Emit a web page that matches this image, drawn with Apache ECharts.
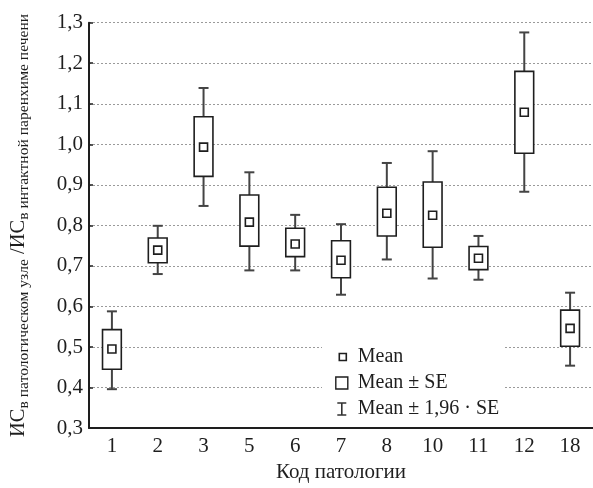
<!DOCTYPE html>
<html>
<head>
<meta charset="utf-8">
<script src="https://cdn.jsdelivr.net/npm/echarts@6/dist/echarts.min.js"></script>
<style>
  html, body { margin: 0; padding: 0; background: #fff; }
  #chart { width: 593px; height: 488px; }
</style>
</head>
<body>
<div id="chart"></div>
<script>
// ---- data ----
const categories = ['1', '2', '3', '5', '6', '7', '8', '10', '11', '12', '18'];
const meanValues = [0.495, 0.739, 0.993, 0.808, 0.754, 0.714, 0.830, 0.825, 0.719, 1.079, 0.546];
const seLow      = [0.445, 0.708, 0.921, 0.749, 0.723, 0.671, 0.774, 0.746, 0.691, 0.978, 0.502];
const seHigh     = [0.543, 0.769, 1.068, 0.875, 0.793, 0.762, 0.894, 0.907, 0.748, 1.180, 0.591];
const ciLow      = [0.396, 0.680, 0.848, 0.689, 0.689, 0.629, 0.716, 0.669, 0.666, 0.883, 0.454];
const ciHigh     = [0.588, 0.799, 1.139, 0.931, 0.826, 0.803, 0.954, 0.983, 0.774, 1.276, 0.634];
const yTicks = { min: 0.3, max: 1.3, step: 0.1 };
const legendNames = ['Mean', 'Mean ± SE', 'Mean ± 1,96 · SE'];
const xTitle = 'Код патологии';
const yTitleParts = ['ИС', 'в патологическом узле', ' /ИС', 'в интактной паренхиме печени'];

// ---- chart ----
const FONT = '"Liberation Serif", "DejaVu Serif", serif';
const INK = '#1e1e1e';
const chart = echarts.init(document.getElementById('chart'), null, { renderer: 'canvas' });

const whiskerData = categories.map((c, i) => [i, ciLow[i], ciHigh[i]]);
const boxData = categories.map((c, i) => [i, seLow[i], seHigh[i]]);
const meanData = categories.map((c, i) => [i, meanValues[i]]);

function renderWhisker(params, api) {
  const x = api.value(0);
  const lo = api.coord([x, api.value(1)]);
  const hi = api.coord([x, api.value(2)]);
  const cap = 5;
  const style = { stroke: '#444', lineWidth: 2, fill: null };
  return {
    type: 'group',
    children: [
      { type: 'line', shape: { x1: lo[0], y1: lo[1], x2: hi[0], y2: hi[1] }, style },
      { type: 'line', shape: { x1: lo[0] - cap, y1: lo[1], x2: lo[0] + cap, y2: lo[1] }, style },
      { type: 'line', shape: { x1: hi[0] - cap, y1: hi[1], x2: hi[0] + cap, y2: hi[1] }, style }
    ]
  };
}

function renderBox(params, api) {
  const x = api.value(0);
  const lo = api.coord([x, api.value(1)]);
  const hi = api.coord([x, api.value(2)]);
  const w = api.size([1, 0])[0] * 0.41;
  return {
    type: 'rect',
    shape: { x: lo[0] - w / 2, y: hi[1], width: w, height: lo[1] - hi[1] },
    style: { fill: '#fff', stroke: INK, lineWidth: 1.6 }
  };
}

const option = {
  animation: false,
  backgroundColor: '#fff',
  textStyle: { fontFamily: FONT, color: INK },
  grid: { left: 87, right: -6, top: 22.7, bottom: 50.3, containLabel: false },
  legend: {
    orient: 'vertical',
    left: 322,
    top: 341,
    padding: [6, 4, 6, 12],
    backgroundColor: '#fff',
    itemWidth: 18,
    itemHeight: 14,
    itemGap: 6,
    selectedMode: false,
    textStyle: { fontFamily: FONT, fontSize: 20, color: INK, lineHeight: 20 },
    data: [
      { name: legendNames[0], icon: 'path://M0,0M18,14M4.5,3.5h7v7h-7z',
        itemStyle: { color: '#fff', borderColor: INK, borderWidth: 1.6 } },
      { name: legendNames[1], icon: 'path://M0,0M18,14M1,1h12v12h-12z',
        itemStyle: { color: '#fff', borderColor: INK, borderWidth: 1.4 } },
      { name: legendNames[2], icon: 'path://M0,0M18,14M2.5,1h9M7,1v12M2.5,13h9',
        itemStyle: { color: 'rgba(0,0,0,0)', borderColor: '#333', borderWidth: 1.6 } }
    ]
  },
  xAxis: {
    type: 'category',
    data: categories,
    boundaryGap: true,
    name: xTitle,
    nameLocation: 'middle',
    nameGap: 31,
    nameTextStyle: { fontFamily: FONT, fontSize: 21, color: INK },
    axisLine: { lineStyle: { color: INK, width: 2 } },
    axisTick: { inside: true, length: 4, alignWithLabel: true, lineStyle: { color: INK, width: 1.5 } },
    axisLabel: { fontFamily: FONT, fontSize: 21, color: INK, margin: 8 },
    splitLine: { show: false }
  },
  yAxis: {
    type: 'value',
    min: yTicks.min,
    max: yTicks.max,
    interval: yTicks.step,
    name: yTitleParts.map((t, i) => (i % 2 === 0 ? '{a|' + t + '}' : '{b|' + t + '}')).join(''),
    nameLocation: 'middle',
    nameRotate: 90,
    nameGap: 57,
    nameTextStyle: {
      fontFamily: FONT,
      color: INK,
      rich: {
        a: { fontFamily: FONT, fontSize: 20.5, lineHeight: 27, color: INK, verticalAlign: 'middle' },
        b: { fontFamily: FONT, fontSize: 15.6, lineHeight: 15, color: INK, verticalAlign: 'bottom' }
      }
    },
    axisLine: { show: true, lineStyle: { color: INK, width: 2 } },
    axisTick: { show: true, inside: true, length: 4, lineStyle: { color: INK, width: 1.5 } },
    axisLabel: {
      fontFamily: FONT, fontSize: 21, color: INK, margin: 6,
      formatter: v => v.toFixed(1).replace('.', ',')
    },
    splitLine: { show: true, lineStyle: { color: '#9a9a9a', width: 1, type: [2, 2] } }
  },
  series: [
    {
      name: legendNames[2],
      type: 'custom',
      renderItem: renderWhisker,
      data: whiskerData,
      encode: { x: 0, y: [1, 2] },
      itemStyle: { color: 'rgba(0,0,0,0)', borderColor: '#333' },
      z: 2,
      silent: true
    },
    {
      name: legendNames[1],
      type: 'custom',
      renderItem: renderBox,
      data: boxData,
      encode: { x: 0, y: [1, 2] },
      itemStyle: { color: '#fff', borderColor: INK },
      z: 3,
      silent: true
    },
    {
      name: legendNames[0],
      type: 'scatter',
      data: meanData,
      symbol: 'rect',
      symbolSize: 8,
      itemStyle: { color: '#fff', borderColor: INK, borderWidth: 1.6, opacity: 1 },
      z: 4,
      silent: true
    }
  ]
};

chart.setOption(option);
</script>
</body>
</html>
